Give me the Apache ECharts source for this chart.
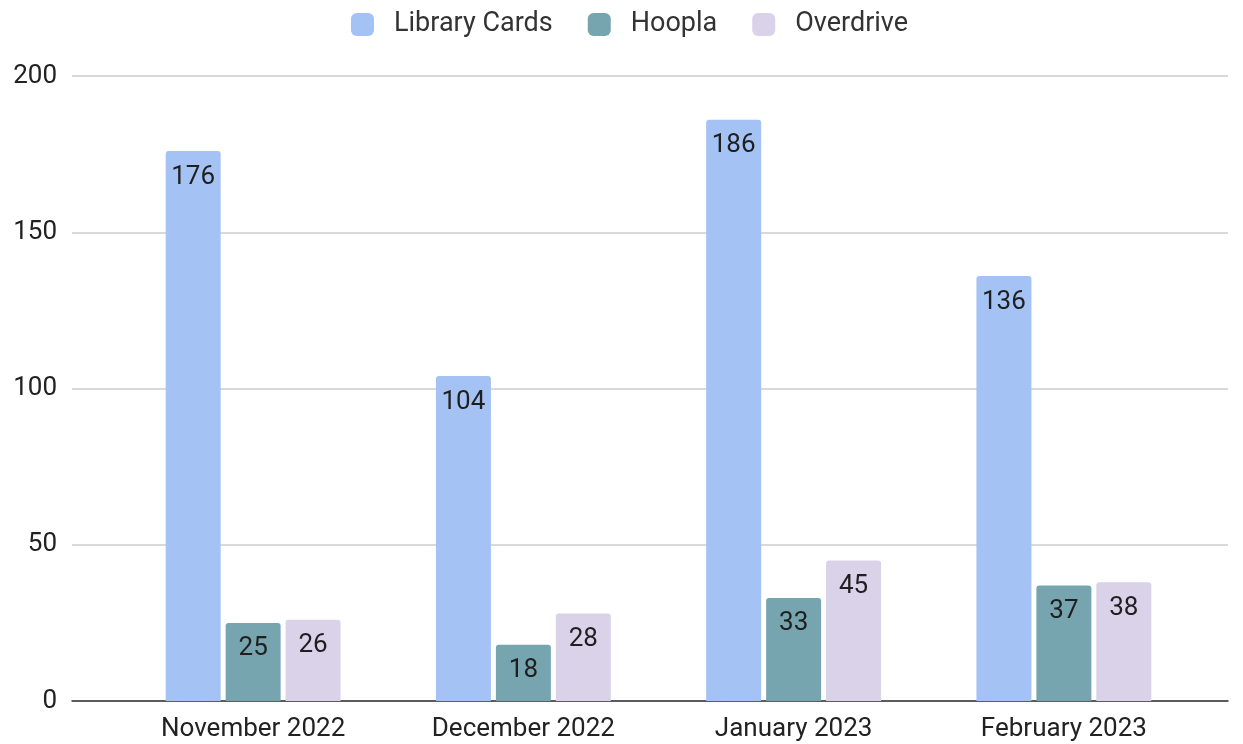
<!DOCTYPE html>
<html>
<head>
<meta charset="utf-8">
<script src="https://cdn.jsdelivr.net/npm/echarts@6/dist/echarts.min.js"></script>
<style>
  html, body { margin: 0; padding: 0; background: #fff; }
  #chart { width: 1243px; height: 744px; }
</style>
</head>
<body>
<div id="chart"></div>
<script>
const months = ['November 2022', 'December 2022', 'January 2023', 'February 2023'];
const libraryCards = [176, 104, 186, 136];
const hoopla = [25, 18, 33, 37];
const overdrive = [26, 28, 45, 38];
const yTicks = [0, 50, 100, 150, 200];

const font = 'Roboto, Arial, sans-serif';
const labelStyle = {
  show: true,
  position: 'insideTop',
  distance: 13,
  color: '#1f1f1f',
  fontSize: 26,
  fontFamily: font
};

function barSeries(name, data, color) {
  return {
    name: name,
    type: 'bar',
    xAxisIndex: 1,
    yAxisIndex: 1,
    data: data,
    barWidth: 55,
    barGap: '9%',
    itemStyle: { color: color, borderRadius: [3, 3, 0, 0] },
    label: labelStyle
  };
}

const chart = echarts.init(document.getElementById('chart'));
chart.setOption({
  animation: false,
  legend: {
    top: 6,
    left: 346,
    itemWidth: 23,
    itemHeight: 23,
    itemGap: 35,
    icon: 'roundRect',
    textStyle: { fontSize: 27, color: '#333', fontFamily: font, padding: [0, 0, 0, 15] },
    data: ['Library Cards', 'Hoopla', 'Overdrive']
  },
  grid: [
    // background grid: gridlines, y labels, baseline
    { left: 72, right: 15, top: 76, bottom: 43 },
    // bars
    { left: 118, right: 44, top: 76, bottom: 43 }
  ],
  xAxis: [
    {
      type: 'category',
      gridIndex: 0,
      data: months,
      axisLine: { show: true, lineStyle: { color: '#333', width: 1.5 } },
      axisTick: { show: false },
      axisLabel: { show: false }
    },
    {
      type: 'category',
      gridIndex: 1,
      data: months,
      axisLine: { show: false },
      axisTick: { show: false },
      axisLabel: { fontSize: 26, color: '#222', fontFamily: font, margin: 15 }
    }
  ],
  yAxis: [
    {
      type: 'value',
      gridIndex: 0,
      min: yTicks[0],
      max: yTicks[yTicks.length - 1],
      interval: 50,
      axisLine: { show: false },
      axisTick: { show: false },
      axisLabel: { fontSize: 26, color: '#222', fontFamily: font, margin: 15 },
      splitLine: { lineStyle: { color: '#cccccc', width: 1.5 } }
    },
    {
      type: 'value',
      gridIndex: 1,
      min: yTicks[0],
      max: yTicks[yTicks.length - 1],
      interval: 50,
      show: false,
      splitLine: { show: false }
    }
  ],
  series: [
    barSeries('Library Cards', libraryCards, '#a4c2f4'),
    barSeries('Hoopla', hoopla, '#76a5af'),
    barSeries('Overdrive', overdrive, '#d9d2e9')
  ]
});
</script>
</body>
</html>
